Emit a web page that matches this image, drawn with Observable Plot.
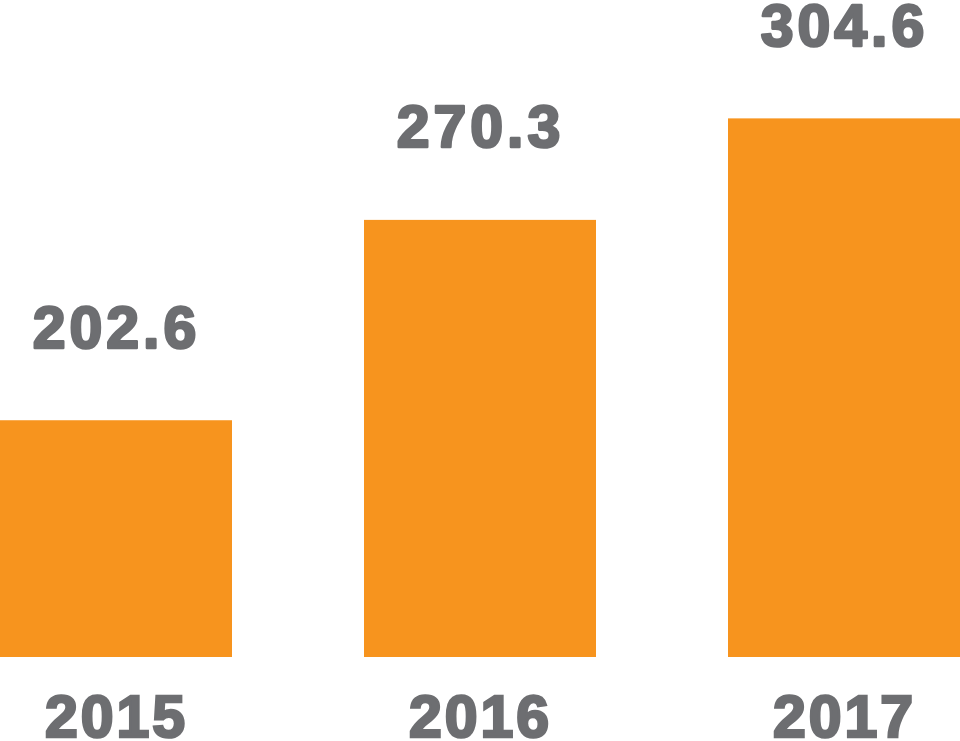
<!DOCTYPE html>
<html>
<head>
<meta charset="utf-8">
<script src="https://cdn.jsdelivr.net/npm/d3@7"></script>
<script src="https://cdn.jsdelivr.net/npm/@observablehq/plot@0.6"></script>
<style>
  html, body { margin: 0; padding: 0; background: #ffffff; }
  #chart svg { display: block; }
</style>
</head>
<body>
<div id="chart"></div>
<script>
const years = ["2015", "2016", "2017"];
const values = [202.6, 270.3, 304.6];
const yBase = 122.6;   // axis baseline value (bars start here)
const yTop = 344.6;    // domain top

const data = years.map((year, i) => ({ year, value: values[i] }));

const orange = "#F7941E";
const gray = "#6D6E71";
const font = "'Liberation Sans', Arial, Helvetica, sans-serif";

const chart = Plot.plot({
  width: 960,
  height: 741,
  marginTop: 0,
  marginRight: 0,
  marginBottom: 84,
  marginLeft: 0,
  style: { fontFamily: font, background: "#ffffff" },
  x: { domain: years, paddingInner: 0.363, paddingOuter: 0, label: null },
  y: { domain: [yBase, yTop], axis: null },
  marks: [
    Plot.rectY(data, { x: "year", y1: () => yBase, y2: "value", fill: orange }),
    Plot.text(data, {
      x: "year",
      y: "value",
      text: d => d.value.toFixed(1),
      dy: -73,
      lineAnchor: "bottom",
      fill: gray,
      stroke: gray,
      strokeWidth: 2.6,
      fontSize: 59,
      fontWeight: "bold",
      fontFamily: font
    }),
    Plot.axisX({
      tickSize: 0,
      tickPadding: 38,
      fontSize: 59,
      fontWeight: "bold",
      fill: gray,
      label: null
    })
  ]
});

chart.querySelectorAll("text").forEach(t => {
  t.style.letterSpacing = "4px";
  t.style.fontWeight = "bold";
});
chart.querySelectorAll("[aria-label='x-axis tick label'] text").forEach(t => {
  t.setAttribute("stroke", gray);
  t.setAttribute("stroke-width", "2.6");
  t.style.letterSpacing = "3px";
});
document.getElementById("chart").appendChild(chart);
</script>
</body>
</html>
